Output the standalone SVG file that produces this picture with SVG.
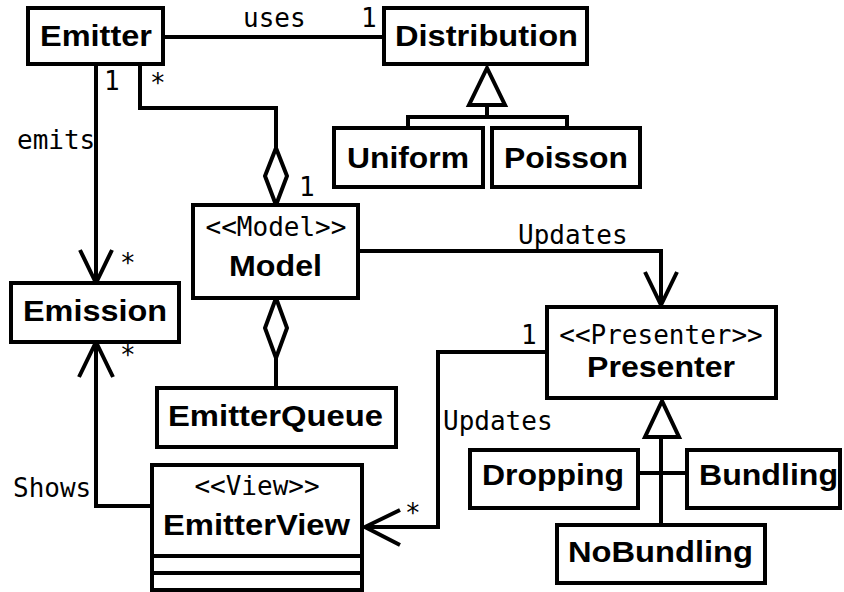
<svg xmlns="http://www.w3.org/2000/svg" width="844" height="592" viewBox="0 0 844 592">
<style>
.box{fill:#fff;stroke:#000;stroke-width:4}
.ln{fill:none;stroke:#000;stroke-width:4}
.dia{fill:#fff;stroke:#000;stroke-width:4}
.n{font-family:"Liberation Sans",Arial,sans-serif;font-weight:bold;font-size:30px;text-anchor:middle;fill:#000}
.m{font-family:"DejaVu Sans Mono","Liberation Mono",monospace;font-size:26px;fill:#000}
.mc{text-anchor:middle}
</style>
<rect width="844" height="592" fill="#fff"/>
<g id="connectors">
<path class="ln" d="M164,37 H384"/>
<path class="ln" d="M96,65 V283"/>
<polyline class="ln" points="80,250 96,283 112,250"/>
<path class="ln" d="M140,65 V108 H276 V148"/>
<polygon class="dia" points="276,148 287,176 276,205 265,176"/>
<polygon class="dia" points="276,298 287,328 276,358 265,328"/>
<path class="ln" d="M276,358 V388"/>
<path class="ln" d="M358,251 H661 V305"/>
<polyline class="ln" points="645,272 661,305 677,272"/>
<path class="ln" d="M547,352 H438 V527 H365"/>
<polyline class="ln" points="400,510 365,527 400,545"/>
<path class="ln" d="M152,506 H96 V342"/>
<polyline class="ln" points="79,377 96,342 113,377"/>
<polygon class="dia" points="487,68 469,105 505,105"/>
<path class="ln" d="M487,105 V117 M408,128 V117 H567 V128"/>
<polygon class="dia" points="662,401 645,437 679,437"/>
<path class="ln" d="M661,437 V525 M638,473 H687"/>
<text class="m" x="243" y="27">uses</text>
<text class="m" x="361" y="27">1</text>
<text class="m" x="104" y="90">1</text>
<text class="m" x="150" y="92">*</text>
<text class="m" x="17" y="149">emits</text>
<text class="m" x="299" y="196">1</text>
<text class="m" x="120" y="272">*</text>
<text class="m" x="120" y="364">*</text>
<text class="m" x="518" y="244">Updates</text>
<text class="m" x="521" y="344">1</text>
<text class="m" x="443" y="430">Updates</text>
<text class="m" x="405" y="522">*</text>
<text class="m" x="13" y="497">Shows</text>
</g>
<g id="Emitter"><rect class="box" x="28" y="8" width="135" height="56"/><text class="n" x="96" y="46" textLength="112" lengthAdjust="spacingAndGlyphs">Emitter</text></g>
<g id="Distribution"><rect class="box" x="384" y="8" width="203" height="56"/><text class="n" x="486.5" y="46" textLength="183" lengthAdjust="spacingAndGlyphs">Distribution</text></g>
<g id="Uniform"><rect class="box" x="334" y="128" width="149" height="59"/><text class="n" x="408" y="168" textLength="122" lengthAdjust="spacingAndGlyphs">Uniform</text></g>
<g id="Poisson"><rect class="box" x="492" y="128" width="148" height="59"/><text class="n" x="566" y="168" textLength="124" lengthAdjust="spacingAndGlyphs">Poisson</text></g>
<g id="Model"><rect class="box" x="193" y="205" width="165" height="93"/><text class="m mc" x="276" y="236">&lt;&lt;Model&gt;&gt;</text><text class="n" x="275.5" y="276" textLength="93" lengthAdjust="spacingAndGlyphs">Model</text></g>
<g id="Emission"><rect class="box" x="11" y="283" width="168" height="59"/><text class="n" x="95" y="321" textLength="144" lengthAdjust="spacingAndGlyphs">Emission</text></g>
<g id="EmitterQueue"><rect class="box" x="157" y="388" width="239" height="59"/><text class="n" x="275.5" y="426" textLength="215" lengthAdjust="spacingAndGlyphs">EmitterQueue</text></g>
<g id="EmitterView"><rect class="box" x="152" y="465" width="210" height="125"/><path class="ln" d="M152,556 H362 M152,573 H362"/><text class="m mc" x="257" y="495">&lt;&lt;View&gt;&gt;</text><text class="n" x="256.5" y="535" textLength="187" lengthAdjust="spacingAndGlyphs">EmitterView</text></g>
<g id="Presenter"><rect class="box" x="547" y="307" width="229" height="91"/><text class="m mc" x="661" y="344">&lt;&lt;Presenter&gt;&gt;</text><text class="n" x="661" y="377" textLength="148" lengthAdjust="spacingAndGlyphs">Presenter</text></g>
<g id="Dropping"><rect class="box" x="470" y="450" width="168" height="58"/><text class="n" x="553" y="485" textLength="142" lengthAdjust="spacingAndGlyphs">Dropping</text></g>
<g id="Bundling"><rect class="box" x="687" y="450" width="153" height="58"/><text class="n" x="768.5" y="485" textLength="139" lengthAdjust="spacingAndGlyphs">Bundling</text></g>
<g id="NoBundling"><rect class="box" x="557" y="525" width="208" height="58"/><text class="n" x="660.5" y="562" textLength="185" lengthAdjust="spacingAndGlyphs">NoBundling</text></g>
</svg>
